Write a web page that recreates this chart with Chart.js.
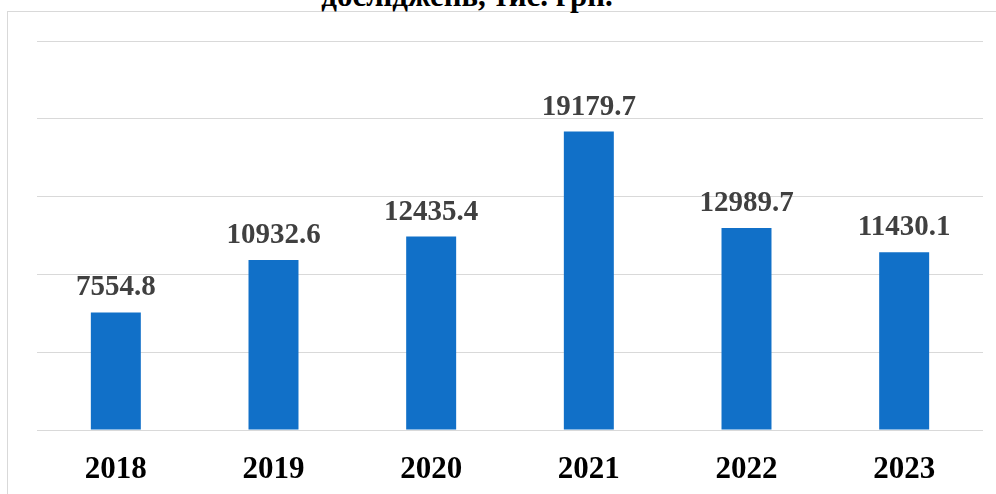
<!DOCTYPE html>
<html>
<head>
<meta charset="utf-8">
<script src="https://cdn.jsdelivr.net/npm/chart.js@4"></script>
<style>
  body { margin: 0; background: #fff; overflow: hidden; }
  #wrap { position: relative; width: 996px; height: 494px; overflow: hidden; }
  #frame { position: absolute; left: 7px; top: 11px; width: 1100px; height: 600px; border: 1px solid #d9d9d9; }
  #title { position: absolute; left: 0; width: 934px; top: -22px; text-align: center;
           font: bold 31px "Liberation Serif", "Times New Roman", serif; color: #000; white-space: nowrap; }
  canvas { position: absolute; left: 0; top: 0; }
</style>
</head>
<body>
<div id="wrap">
  <div id="frame"></div>
  <div id="title">досліджень, тис. грн.</div>
  <canvas id="chart" width="996" height="494"></canvas>
</div>
<script>
var years = ["2018", "2019", "2020", "2021", "2022", "2023"];
var values = [7554.8, 10932.6, 12435.4, 19179.7, 12989.7, 11430.1];
var valueLabels = ["7554.8", "10932.6", "12435.4", "19179.7", "12989.7", "11430.1"];

var labelPlugin = {
  id: "barLabels",
  afterDatasetsDraw: function (chart) {
    var ctx = chart.ctx;
    var meta = chart.getDatasetMeta(0);
    ctx.save();
    ctx.font = "bold 29px 'Liberation Serif', 'Times New Roman', serif";
    ctx.fillStyle = "#404040";
    ctx.textAlign = "center";
    ctx.textBaseline = "alphabetic";
    meta.data.forEach(function (bar, i) {
      ctx.fillText(valueLabels[i], bar.x, bar.y - 17);
    });
    ctx.restore();
  }
};

var chart = new Chart(document.getElementById("chart").getContext("2d"), {
  type: "bar",
  data: {
    labels: years,
    datasets: [
      {
        data: values,
        backgroundColor: "rgb(17, 112, 200)",
        borderWidth: 0,
        categoryPercentage: 1,
        barPercentage: 0.317,
      },
    ],
  },
  options: {
    responsive: false,
    animation: false,
    events: [],
    layout: { padding: { left: 37, right: 13, top: 41, bottom: 0 } },
    plugins: { legend: { display: false }, tooltip: { enabled: false } },
    scales: {
      x: {
        grid: { display: false },
        border: { display: false },
        afterFit: function (scale) { scale.height = 64; },
        ticks: {
          color: "#000",
          padding: 13,
          font: { family: "'Liberation Serif', 'Times New Roman', serif", size: 31, weight: "bold" },
        },
      },
      y: {
        min: 0,
        max: 25000,
        ticks: { display: false, stepSize: 5000 },
        border: { display: false },
        grid: { color: "#d9d9d9", lineWidth: 1, drawTicks: false },
      },
    },
  },
  plugins: [labelPlugin],
});
</script>
</body>
</html>
